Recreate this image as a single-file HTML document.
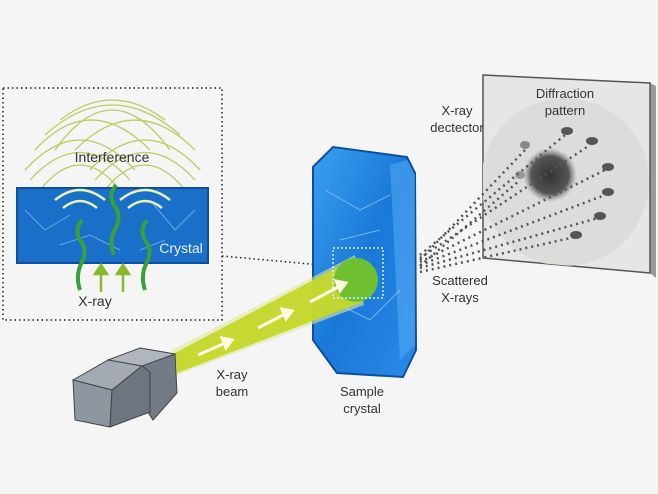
<!DOCTYPE html>
<html><head><meta charset="utf-8"><style>
body{margin:0;background:#f6f5f5;}
svg{display:block}
text{font-family:"Liberation Sans",sans-serif;font-size:13px;fill:#333;text-anchor:middle}
</style></head><body>
<svg width="658" height="494" viewBox="0 0 658 494">
<defs>
<radialGradient id="spot" cx="50%" cy="50%" r="50%"><stop offset="0" stop-color="#333"/><stop offset="0.7" stop-color="#555"/><stop offset="1" stop-color="#888" stop-opacity="0"/></radialGradient>
<linearGradient id="cry" x1="0" y1="0" x2="1" y2="1"><stop offset="0" stop-color="#3aa0f0"/><stop offset="0.5" stop-color="#1a78d8"/><stop offset="1" stop-color="#2a8ae8"/></linearGradient>
<clipPath id="det"><polygon points="483,75 650,83 650,273 483,258"/></clipPath>
</defs>
<rect width="658" height="494" fill="#f6f5f5"/>
<!-- inset box -->
<rect x="3" y="88" width="219" height="232" fill="none" stroke="#222" stroke-width="1.5" stroke-dasharray="1.5,3"/>
<line x1="222" y1="256" x2="332" y2="266" stroke="#222" stroke-width="1.5" stroke-dasharray="1.5,3"/>
<!-- interference arcs -->
<g fill="none" stroke="#b8cc60" stroke-width="1.3">
<path d="M55 150 Q112 70 170 150"/><path d="M60 120 Q112 80 165 120"/><path d="M45 135 Q112 75 180 135"/>
<path d="M25 170 Q80 110 135 170"/><path d="M30 180 Q80 125 130 180"/><path d="M40 190 Q80 140 120 190"/>
<path d="M90 170 Q145 110 200 170"/><path d="M95 180 Q145 125 195 180"/><path d="M105 190 Q145 140 185 190"/>
<path d="M35 150 Q90 90 150 150"/><path d="M75 150 Q135 90 195 150"/>
</g>
<text x="112" y="162" style="font-size:14px">Interference</text>
<!-- inset crystal -->
<rect x="17" y="188" width="191" height="75" fill="#1a6fc8" stroke="#0d4f9e" stroke-width="2"/>
<g stroke="#8fd0ff" stroke-width="1" opacity="0.6" fill="none"><path d="M25 210 L45 230 L70 215 M150 200 L175 230 L195 210 M60 245 L90 235 L120 250 M140 250 L165 240"/></g>
<g fill="none" stroke="#e8f4b0" stroke-width="2.5">
<path d="M55 200 Q80 180 105 200"/><path d="M63 208 Q80 194 97 208"/><path d="M120 200 Q145 180 170 200"/><path d="M128 208 Q145 194 162 208"/>
</g>
<g fill="none" stroke="#3aa03a" stroke-width="4">
<path d="M80 290 Q75 275 82 262 Q88 250 80 240 Q74 230 82 220"/>
<path d="M114 255 Q108 240 116 228 Q122 215 114 205 Q108 195 116 185"/>
<path d="M145 290 Q140 275 147 262 Q153 250 145 240 Q139 230 147 220"/>
</g>
<g stroke="#8ab82a" stroke-width="2.5" fill="#8ab82a"><line x1="101" y1="292" x2="101" y2="272"/><path d="M95 274 L101 265 L107 274Z"/><line x1="123" y1="292" x2="123" y2="272"/><path d="M117 274 L123 265 L129 274Z"/></g>
<text x="181" y="253" style="fill:#e6f2ff;font-size:14px">Crystal</text>
<text x="95" y="306" style="font-size:14px">X-ray</text>
<!-- sample crystal -->
<polygon points="313,167 333,147 407,157 415,173 416,350 403,377 337,373 313,340" fill="url(#cry)" stroke="#0d4f9e" stroke-width="2"/>
<polygon points="390,165 407,160 415,175 415,345 400,360" fill="#5ab0f5" opacity="0.5"/>
<g stroke="#a8dcff" stroke-width="1" opacity="0.6" fill="none"><path d="M325 190 L360 210 L390 195 M330 300 L370 320 L400 290 M340 240 L380 230"/></g>
<!-- beam -->
<polygon points="172,350 355,255 364,305 174,376" fill="#dfe89a" opacity="0.6"/>
<polygon points="175,353 355,258 362,302 177,373" fill="#c4d82a" opacity="0.95"/>
<circle cx="356" cy="280" r="22" fill="#6ec030"/>
<g stroke="#fbfbe0" stroke-width="3" fill="#fbfbe0"><line x1="198" y1="355" x2="225" y2="343"/><path d="M222 338 L232 340 L226 348Z"/><line x1="258" y1="328" x2="285" y2="314"/><path d="M282 309 L292 311 L286 319Z"/><line x1="310" y1="302" x2="340" y2="286"/><path d="M336 281 L346 283 L340 291Z"/></g>
<rect x="333" y="248" width="50" height="50" fill="none" stroke="#d0f0ff" stroke-width="1.5" stroke-dasharray="2,2"/>
<!-- camera -->
<polygon points="140,348 175,354 177,393 153,420 140,400" fill="#737b86" stroke="#444"/>
<polygon points="108,360 140,348 175,354 142,366" fill="#b0b6be" stroke="#444"/>
<polygon points="73,380 108,360 142,366 112,390" fill="#a4aab2" stroke="#444"/>
<polygon points="73,380 112,390 110,427 75,420" fill="#8e96a0" stroke="#444"/>
<polygon points="112,390 142,366 150,372 150,412 110,427" fill="#6d7580" stroke="#444"/>
<!-- detector -->
<polygon points="650,83 656,86 656,278 650,273" fill="#9a9a9a"/>
<polygon points="483,75 650,83 650,273 483,258" fill="#e6e6e4" stroke="#555" stroke-width="1.5"/>
<g clip-path="url(#det)"><circle cx="565" cy="182" r="84" fill="#dcdcda"/></g>
<circle cx="550" cy="175" r="27" fill="url(#spot)"/>
<g fill="#555"><ellipse cx="567" cy="131" rx="6" ry="4"/><ellipse cx="592" cy="141" rx="6" ry="4"/><ellipse cx="608" cy="167" rx="6" ry="4"/><ellipse cx="608" cy="192" rx="6" ry="4"/><ellipse cx="600" cy="216" rx="6" ry="4"/><ellipse cx="576" cy="235" rx="6" ry="4"/><ellipse cx="525" cy="145" rx="5" ry="4" fill="#888"/><ellipse cx="520" cy="175" rx="5" ry="4" fill="#999"/></g>
<g stroke="#555" stroke-width="2.5" stroke-dasharray="2,4" fill="none">
<line x1="420" y1="255" x2="565" y2="135"/><line x1="420" y1="258" x2="590" y2="145"/><line x1="420" y1="262" x2="605" y2="170"/><line x1="420" y1="265" x2="605" y2="195"/><line x1="420" y1="268" x2="598" y2="218"/><line x1="420" y1="272" x2="575" y2="237"/><line x1="420" y1="260" x2="525" y2="150"/><line x1="420" y1="266" x2="520" y2="180"/>
</g>
<!-- labels -->
<text x="565" y="98">Diffraction</text><text x="565" y="115">pattern</text>
<text x="457" y="115">X-ray</text><text x="457" y="132">dectector</text>
<text x="460" y="285">Scattered</text><text x="460" y="302">X-rays</text>
<text x="362" y="396">Sample</text><text x="362" y="413">crystal</text>
<text x="232" y="379">X-ray</text><text x="232" y="396">beam</text>
</svg>
</body></html>
